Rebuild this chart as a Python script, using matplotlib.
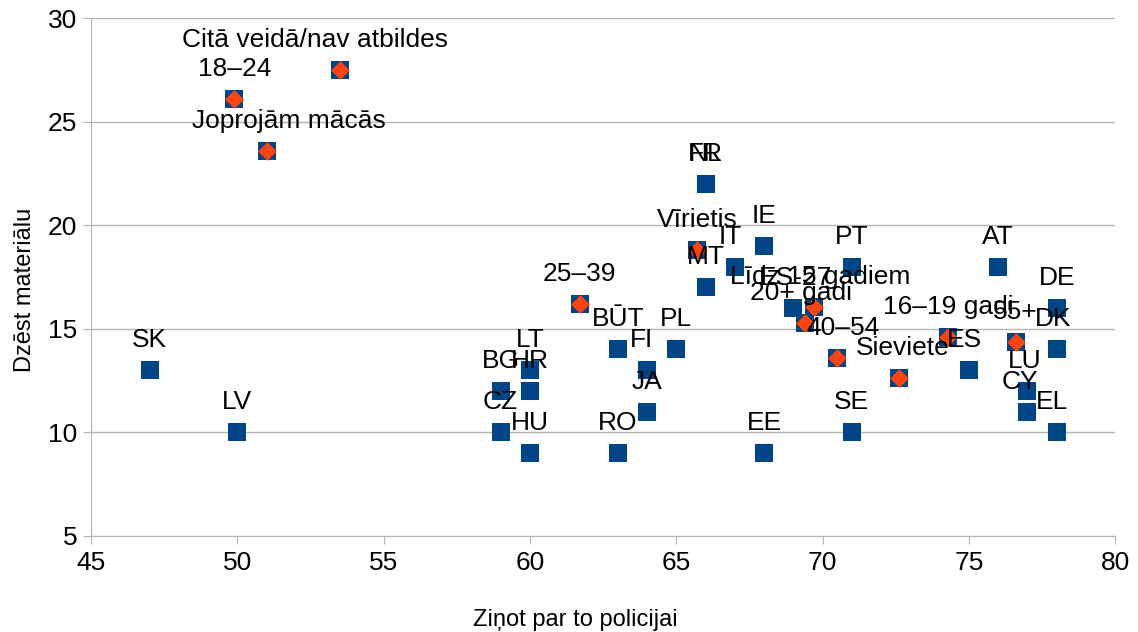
import matplotlib.pyplot as plt

plt.rcParams['font.family'] = ['Liberation Sans', 'DejaVu Sans']

# Countries (blue squares)
countries = ['SK', 'LV', 'BG', 'CZ', 'LT', 'HR', 'HU', 'BŪT', 'RO', 'FI', 'JA', 'PL',
             'NL', 'FR', 'MT', 'IT', 'IE', 'EE', 'ES-27', 'PT', 'SE', 'AT', 'ES',
             'DE', 'DK', 'LU', 'CY', 'EL']
country_x = [47, 50, 59, 59, 60, 60, 60, 63, 63, 64, 64, 65,
             66, 66, 66, 67, 68, 68, 69, 71, 71, 76, 75,
             78, 78, 77, 77, 78]
country_y = [13, 10, 12, 10, 13, 12, 9, 14, 9, 13, 11, 14,
             22, 22, 17, 18, 19, 9, 16, 18, 10, 18, 13,
             16, 14, 12, 11, 10]

# Groups (orange diamonds)
groups = ['Citā veidā/nav atbildes', '18–24', 'Joprojām mācās', '25–39', 'Vīrietis',
          'Līdz 15 gadiem', '20+ gadi', '40–54', 'Sieviete', '16–19 gadi', '55+']
group_x = [53.5, 49.9, 51.0, 61.7, 65.7, 69.7, 69.4, 70.5, 72.6, 74.3, 76.6]
group_y = [27.5, 26.1, 23.6, 16.2, 18.8, 16.05, 15.3, 13.6, 12.6, 14.6, 14.35]

# label shifts in pixels (x) where the label is not centred over its point
shift = {'Citā veidā/nav atbildes': -25, 'Joprojām mācās': 22, 'FI': -6,
         'ES': -4, 'LU': -3, 'CY': -8, 'EL': -5, 'DK': -4, 'IT': -5, 'ES-27': 2,
         'Līdz 15 gadiem': 6, '20+ gadi': -4, '40–54': 6, 'Sieviete': 4}

blue = '#004586'
orange = '#ff420e'

fig = plt.figure(figsize=(11.38, 6.32), dpi=100)
ax = fig.add_axes([0.080, 0.152, 0.900, 0.8195])

ax.scatter(country_x, country_y, marker='s', s=13.5**2, color=blue, zorder=3, linewidths=0)
ax.scatter(group_x, group_y, marker='s', s=13.5**2, color=blue, zorder=3, linewidths=0)
ax.scatter(group_x, group_y, marker='D', s=9.5**2, color=orange, zorder=4, linewidths=0)

for name, x, y in list(zip(countries, country_x, country_y)) + list(zip(groups, group_x, group_y)):
    ax.annotate(name, (x, y), xytext=(shift.get(name, 0), 30), textcoords='offset pixels',
                ha='center', va='center', fontsize=19, color='black', zorder=5)

ax.set_xlim(45, 80)
ax.set_ylim(5, 30)
ax.set_xticks(range(45, 81, 5))
ax.set_yticks(range(5, 31, 5))
ax.grid(True, axis='y', color='#b3b3b3', linewidth=1)
ax.set_axisbelow(True)
for s in ['top', 'right']:
    ax.spines[s].set_visible(False)
for s in ['left', 'bottom']:
    ax.spines[s].set_color('#b3b3b3')
ax.tick_params(axis='both', colors='#b3b3b3', labelcolor='black', labelsize=19, length=6)
ax.tick_params(axis='x', pad=5)
ax.tick_params(axis='y', pad=4)

ax.set_xlabel('Ziņot par to policijai', fontsize=17, va='center')
ax.set_ylabel('Dzēst materiālu', fontsize=17, va='center')
ax.xaxis.set_label_coords(0.473, -0.162)
ax.yaxis.set_label_coords(-0.064, 0.475)

plt.savefig('out.png', dpi=100)
